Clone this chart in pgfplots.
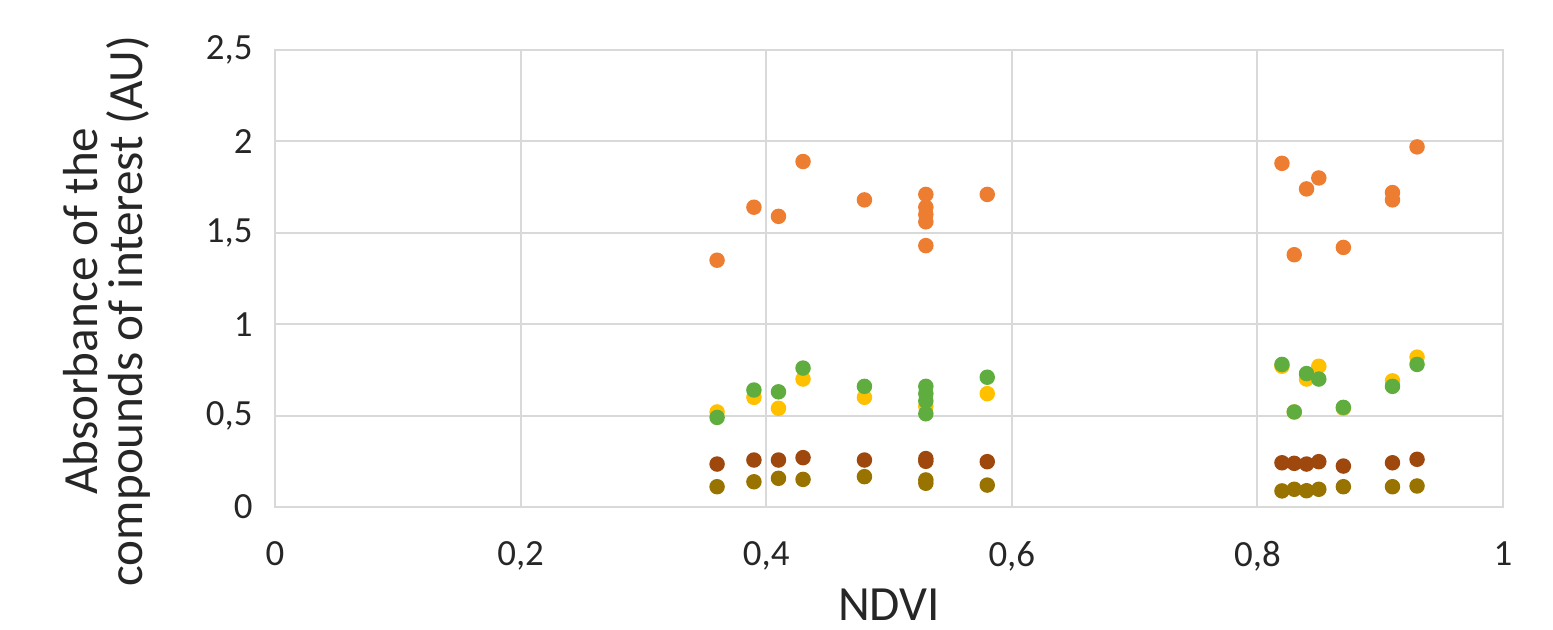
\documentclass[border=0pt]{standalone}
\usepackage{fontspec}
\setmainfont{Carlito}
\usepackage{pgfplots}
\pgfplotsset{compat=1.18}

\definecolor{sOrange}{HTML}{ED7D31}
\definecolor{sYellow}{HTML}{FFC000}
\definecolor{sGreen}{HTML}{5FAD3F}
\definecolor{sBrown}{HTML}{9E480E}
\definecolor{sOlive}{HTML}{997300}
\definecolor{gridgray}{HTML}{D9D9D9}
\definecolor{ticktext}{HTML}{262626}

\begin{document}
\begin{tikzpicture}
\begin{axis}[
    at={(0,0)}, anchor=origin,
    scale only axis,
    width=12.28cm, height=4.57cm,
    xmin=0, xmax=1, ymin=0, ymax=2.5,
    xtick={0,0.2,0.4,0.6,0.8,1},
    xticklabels={0,{0,2},{0,4},{0,6},{0,8},1},
    ytick={0,0.5,1,1.5,2,2.5},
    yticklabels={0,{0,5},1,{1,5},2,{2,5}},
    major tick length=0pt,
    grid=major,
    grid style={gridgray, line width=0.6pt},
    axis line style={gridgray, line width=0.6pt},
    tick label style={font=\fontsize{10.5}{12}\selectfont, text=ticktext},
    xticklabel style={yshift=-0.22cm},
    yticklabel style={xshift=-0.1cm},
    xlabel={NDVI},
    xlabel style={font=\fontsize{14}{16}\selectfont, text=ticktext, at={(axis description cs:0.5,0)}, anchor=center, yshift=-0.98cm},
    clip=false,
    every axis plot/.append style={only marks, mark=*, mark size=2pt},
]
% orange
\addplot[mark options={draw=sOrange, fill=sOrange}] coordinates {
(0.36,1.35) (0.39,1.64) (0.41,1.59) (0.43,1.89) (0.48,1.68)
(0.53,1.71) (0.53,1.64) (0.53,1.60) (0.53,1.56) (0.53,1.43) (0.58,1.71)
(0.82,1.88) (0.83,1.38) (0.84,1.74) (0.85,1.80) (0.87,1.42)
(0.91,1.72) (0.91,1.68) (0.93,1.97)
};
% yellow
\addplot[mark options={draw=sYellow, fill=sYellow}] coordinates {
(0.36,0.52) (0.39,0.60) (0.41,0.54) (0.43,0.70) (0.48,0.60)
(0.53,0.55) (0.58,0.62)
(0.82,0.77) (0.83,0.52) (0.84,0.70) (0.85,0.77) (0.87,0.54)
(0.91,0.69) (0.93,0.82)
};
% green
\addplot[mark options={draw=sGreen, fill=sGreen}] coordinates {
(0.36,0.49) (0.39,0.64) (0.41,0.63) (0.43,0.76) (0.48,0.66)
(0.53,0.66) (0.53,0.62) (0.53,0.58) (0.53,0.51) (0.58,0.71)
(0.82,0.78) (0.83,0.52) (0.84,0.73) (0.85,0.70) (0.87,0.545)
(0.91,0.66) (0.93,0.78)
};
% brown
\addplot[mark options={draw=sBrown, fill=sBrown}] coordinates {
(0.36,0.235) (0.39,0.257) (0.41,0.257) (0.43,0.27) (0.48,0.257)
(0.53,0.265) (0.53,0.25) (0.58,0.248)
(0.82,0.242) (0.83,0.239) (0.84,0.235) (0.85,0.248) (0.87,0.224)
(0.91,0.242) (0.93,0.261)
};
% olive
\addplot[mark options={draw=sOlive, fill=sOlive}] coordinates {
(0.36,0.111) (0.39,0.138) (0.41,0.157) (0.43,0.151) (0.48,0.166)
(0.53,0.148) (0.53,0.13) (0.58,0.12)
(0.82,0.088) (0.83,0.097) (0.84,0.089) (0.85,0.097) (0.87,0.111)
(0.91,0.111) (0.93,0.115)
};
\end{axis}
\node[rotate=90, align=center, text=ticktext, font=\fontsize{14}{13}\selectfont] at (-1.68,1.96)
  {Absorbance of the\\compounds of interest (AU)};
\pgfresetboundingbox
\path[use as bounding box] (-2.75,-1.22) rectangle (12.78,5.07);
\end{tikzpicture}
\end{document}
